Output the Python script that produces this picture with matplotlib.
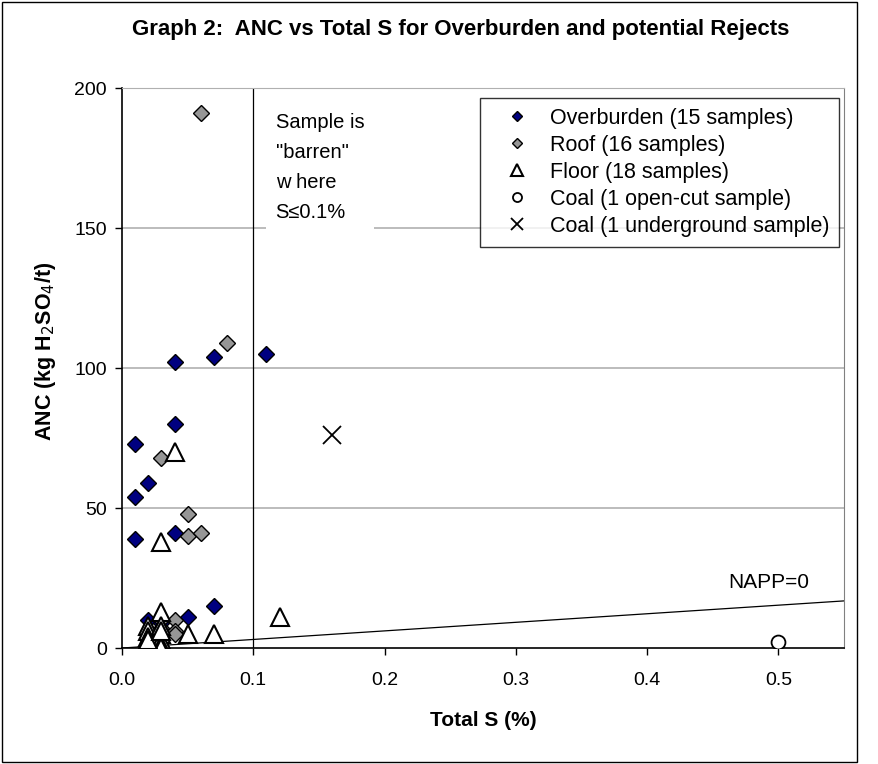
import numpy as np
import matplotlib.pyplot as plt
from matplotlib.patches import Rectangle

# Data (Total S in %, ANC in kg H2SO4/t)
over_s = [0.04, 0.07, 0.11, 0.04, 0.01, 0.02, 0.01, 0.04, 0.01, 0.07, 0.05, 0.02, 0.03, 0.02, 0.03]
over_anc = [102, 104, 105, 80, 73, 59, 54, 41, 39, 15, 11, 10, 9, 5, 6]

roof_s = [0.06, 0.08, 0.03, 0.05, 0.05, 0.06, 0.04, 0.04, 0.03, 0.03, 0.02, 0.02, 0.03, 0.04, 0.02, 0.03]
roof_anc = [191, 109, 68, 48, 40, 41, 10, 6, 10, 7, 6, 4, 4, 5, 2, 2]

floor_s = [0.04, 0.03, 0.12, 0.07, 0.05, 0.03, 0.02, 0.02, 0.02, 0.02, 0.02, 0.03, 0.03, 0.03, 0.03, 0.03, 0.02, 0.03]
floor_anc = [70, 38, 11, 5, 5, 13, 8, 6, 4, 2, 1, 8, 5, 3, 1, 0, 3, 6]

coal_oc_s = [0.5]
coal_oc_anc = [2]
coal_ug_s = [0.16]
coal_ug_anc = [76]

# NAPP = 0 line: ANC = 30.6 * S
napp_s = np.array([0.0, 0.55])
napp_anc = 30.6 * napp_s

plt.rcParams['font.family'] = ['Liberation Sans', 'DejaVu Sans']

fig = plt.figure(figsize=(8.79, 7.64), dpi=100)
ax = fig.add_axes([0.1388, 0.1518, 0.8214, 0.733])

# outer chart border
fig.patches.append(Rectangle((0.002, 0.002), 0.973, 0.995, transform=fig.transFigure,
                             fill=False, edgecolor='black', linewidth=1.0))

# grid lines
for y in [50, 100, 150, 200]:
    ax.axhline(y, color='#b0b0b0', linewidth=1.2, zorder=0)

ax.axvline(0.1, color='black', linewidth=0.9, zorder=1)
ax.plot(napp_s, napp_anc, color='black', linewidth=0.9, zorder=1)

ax.plot(over_s, over_anc, linestyle='none', marker='D', markersize=8,
        markerfacecolor='#000080', markeredgecolor='black', markeredgewidth=1.0,
        label='Overburden (15 samples)', zorder=3)
ax.plot(roof_s, roof_anc, linestyle='none', marker='D', markersize=8,
        markerfacecolor='#969696', markeredgecolor='black', markeredgewidth=1.0,
        label='Roof (16 samples)', zorder=3)
ax.plot(floor_s, floor_anc, linestyle='none', marker='^', markersize=13,
        markerfacecolor='white', markeredgecolor='black', markeredgewidth=1.5,
        label='Floor (18 samples)', zorder=4)
ax.plot(coal_oc_s, coal_oc_anc, linestyle='none', marker='o', markersize=10,
        markerfacecolor='white', markeredgecolor='black', markeredgewidth=1.3,
        label='Coal (1 open-cut sample)', zorder=4)
ax.plot(coal_ug_s, coal_ug_anc, linestyle='none', marker='x', markersize=13,
        markeredgecolor='black', markeredgewidth=1.3,
        label='Coal (1 underground sample)', zorder=4)

ax.text(0.117, 191, 'Sample is\n"barren"\nw here\nS\u22640.1%', fontsize=14.5,
        va='top', ha='left', linespacing=1.72, zorder=2,
        bbox=dict(facecolor='white', edgecolor='none', pad=7))
ax.text(0.4925, 23.5, 'NAPP=0', fontsize=15, ha='center', va='center')

ax.set_xlim(0, 0.55)
ax.set_ylim(0, 200)
ax.set_xticks([0.0, 0.1, 0.2, 0.3, 0.4, 0.5])
ax.set_xticklabels(['0.0', '0.1', '0.2', '0.3', '0.4', '0.5'])
ax.set_yticks([0, 50, 100, 150, 200])
ax.tick_params(axis='both', direction='out', length=5, width=1, labelsize=14)
ax.tick_params(axis='x', pad=12)
ax.tick_params(axis='y', pad=6)

ax.spines['top'].set_color('#b0b0b0')
ax.spines['right'].set_color('#808080')
ax.spines['left'].set_linewidth(1.2)
ax.spines['bottom'].set_linewidth(1.2)

ax.set_xlabel('Total S (%)', fontsize=15, fontweight='bold', labelpad=16)
ax.set_ylabel('ANC (kg H$_2$SO$_4$/t)', fontsize=15.5, fontweight='bold')
ax.yaxis.set_label_coords(-0.088, 0.53)
fig.text(0.524, 0.961, 'Graph 2:  ANC vs Total S for Overburden and potential Rejects',
         fontsize=16, fontweight='bold', ha='center', va='center')

leg = ax.legend(loc='upper right', bbox_to_anchor=(0.993, 0.982), borderaxespad=0,
                fontsize=15.5, frameon=True, fancybox=False, edgecolor='black',
                handletextpad=0.2, handlelength=2.6, markerscale=0.65,
                labelspacing=0.28, borderpad=0.45)
leg.get_frame().set_linewidth(1.0)

fig.savefig('out.png', dpi=100)
